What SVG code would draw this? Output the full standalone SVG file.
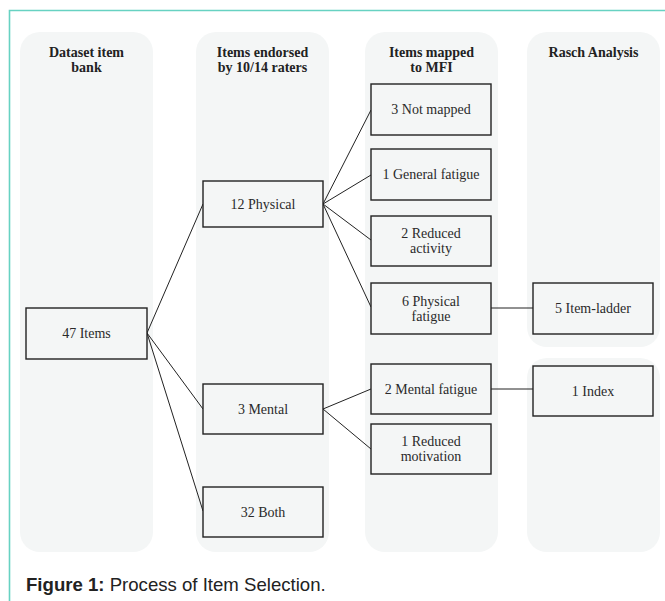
<svg xmlns="http://www.w3.org/2000/svg" width="665" height="601" viewBox="0 0 665 601">
<style>
.lane{fill:#f4f6f6;stroke:none}
.box{fill:#f4f6f6;stroke:#222;stroke-width:1.4}
.hd{font-family:"Liberation Serif","Times New Roman",serif;font-weight:bold;font-size:14px;fill:#222;text-anchor:middle}
.t{font-family:"Liberation Serif","Times New Roman",serif;font-size:14px;fill:#2a2a2a;text-anchor:middle}
.c{stroke:#222;stroke-width:1;fill:none}
</style>
<rect x="0" y="0" width="665" height="601" fill="#fff"/>
<path d="M9.5 605 V10.5 H670" fill="none" stroke="#67d2c2" stroke-width="1.6"/>
<g id="lanes">
<rect class="lane" x="20" y="32" width="133" height="520" rx="20"/>
<rect class="lane" x="196" y="32" width="133" height="520" rx="20"/>
<rect class="lane" x="365" y="32" width="133" height="520" rx="20"/>
<rect class="lane" x="527" y="32" width="133" height="315" rx="20"/>
<rect class="lane" x="527" y="358" width="133" height="194" rx="20"/>
<text class="hd" x="86.5" y="57">Dataset item</text>
<text class="hd" x="86.5" y="72">bank</text>
<text class="hd" x="262.5" y="57">Items endorsed</text>
<text class="hd" x="262.5" y="72">by 10/14 raters</text>
<text class="hd" x="431.5" y="57">Items mapped</text>
<text class="hd" x="431.5" y="72">to MFI</text>
<text class="hd" x="593.5" y="57">Rasch Analysis</text>
</g>
<g id="connectors">
<line class="c" x1="147" y1="333" x2="203" y2="204"/>
<line class="c" x1="147" y1="333" x2="203" y2="409"/>
<line class="c" x1="147" y1="333" x2="203" y2="511"/>
<line class="c" x1="323" y1="204" x2="371" y2="110"/>
<line class="c" x1="323" y1="204" x2="371" y2="175"/>
<line class="c" x1="323" y1="204" x2="371" y2="240"/>
<line class="c" x1="323" y1="204" x2="371" y2="307"/>
<line class="c" x1="323" y1="409" x2="371" y2="389"/>
<line class="c" x1="323" y1="409" x2="371" y2="449"/>
<line class="c" x1="491" y1="308" x2="533" y2="308"/>
<line class="c" x1="491" y1="389" x2="533" y2="389"/>
</g>
<g id="n47"><rect class="box" x="26" y="308" width="121" height="51"/><text class="t" x="86.5" y="338">47 Items</text></g>
<g id="n12phys"><rect class="box" x="203" y="181" width="120" height="46"/><text class="t" x="263" y="208.5">12 Physical</text></g>
<g id="n3mental"><rect class="box" x="203" y="384" width="120" height="50"/><text class="t" x="263" y="413.5">3 Mental</text></g>
<g id="n32both"><rect class="box" x="203" y="487" width="120" height="50"/><text class="t" x="263" y="516.5">32 Both</text></g>
<g id="nNotMapped"><rect class="box" x="371" y="84" width="120" height="51"/><text class="t" x="431" y="114">3 Not mapped</text></g>
<g id="nGeneral"><rect class="box" x="371" y="149" width="120" height="51"/><text class="t" x="431" y="179">1 General fatigue</text></g>
<g id="nReducedAct"><rect class="box" x="371" y="216" width="120" height="50"/><text class="t" x="431" y="237.5">2 Reduced</text><text class="t" x="431" y="253">activity</text></g>
<g id="nPhysFat"><rect class="box" x="371" y="283" width="120" height="51"/><text class="t" x="431" y="305.5">6 Physical</text><text class="t" x="431" y="321">fatigue</text></g>
<g id="nMentalFat"><rect class="box" x="371" y="364" width="120" height="50"/><text class="t" x="431" y="393.5">2 Mental fatigue</text></g>
<g id="nReducedMot"><rect class="box" x="371" y="424" width="120" height="50"/><text class="t" x="431" y="445.5">1 Reduced</text><text class="t" x="431" y="461">motivation</text></g>
<g id="nItemLadder"><rect class="box" x="533" y="283" width="120" height="51"/><text class="t" x="593" y="312.5">5 Item-ladder</text></g>
<g id="nIndex"><rect class="box" x="533" y="366" width="120" height="50"/><text class="t" x="593" y="395.5">1 Index</text></g>
<text x="26" y="591" font-family="'Liberation Sans',Arial,sans-serif" font-size="18.6" fill="#222"><tspan font-weight="bold">Figure 1:</tspan> Process of Item Selection.</text>
</svg>
